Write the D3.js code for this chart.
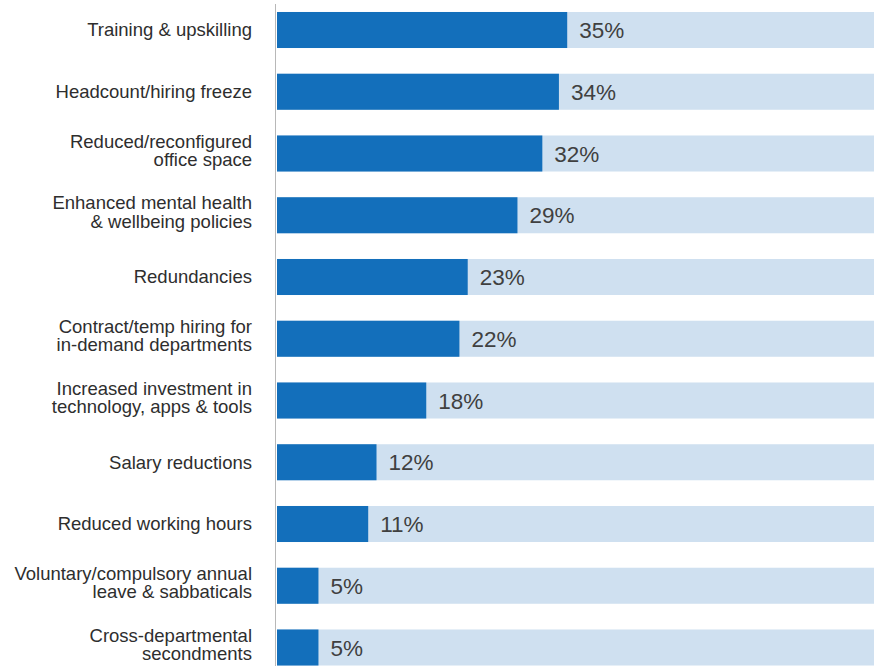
<!DOCTYPE html>
<html>
<head>
<meta charset="utf-8">
<script src="https://cdn.jsdelivr.net/npm/d3@7"></script>
<style>
  html, body { margin: 0; padding: 0; background: #fff; }
  svg { display: block; }
</style>
</head>
<body>
<svg id="chart" width="874" height="666"></svg>
<script>
// Workforce measures, share of respondents (%)
const categories = [
  ["Training & upskilling"],
  ["Headcount/hiring freeze"],
  ["Reduced/reconfigured", "office space"],
  ["Enhanced mental health", "& wellbeing policies"],
  ["Redundancies"],
  ["Contract/temp hiring for", "in-demand departments"],
  ["Increased investment in", "technology, apps & tools"],
  ["Salary reductions"],
  ["Reduced working hours"],
  ["Voluntary/compulsory annual", "leave & sabbaticals"],
  ["Cross-departmental", "secondments"]
];
const values = [35, 34, 32, 29, 23, 22, 18, 12, 11, 5, 5];
const valueLabels = values.map(v => v + "%");
const trackMax = 72;

const svg = d3.select("#chart");
const W = 874, H = 666;
const x0 = 277, labelRight = 252;

const x = d3.scaleLinear().domain([0, trackMax]).range([x0, W]);
const y = d3.scaleBand()
  .domain(d3.range(categories.length))
  .range([5.5, 672])
  .paddingInner(0.4165)
  .paddingOuter(0.105);

const rows = svg.selectAll("g.row")
  .data(values)
  .join("g")
  .attr("class", "row");

// light background track
rows.append("rect")
  .attr("x", x(0))
  .attr("y", (d, i) => y(i))
  .attr("width", x(trackMax) - x(0))
  .attr("height", y.bandwidth())
  .attr("fill", "#cfe0f0");

// value bar
rows.append("rect")
  .attr("x", x(0))
  .attr("y", (d, i) => y(i))
  .attr("width", d => x(d) - x(0))
  .attr("height", y.bandwidth())
  .attr("fill", "#136fbb");

// value labels
rows.append("text")
  .attr("x", d => x(d) + 12)
  .attr("y", (d, i) => y(i) + y.bandwidth() / 2)
  .attr("dy", "0.36em")
  .attr("font-family", "Liberation Sans, Arial, sans-serif")
  .attr("font-size", 22.5)
  .attr("fill", "#404040")
  .text((d, i) => valueLabels[i]);

// category labels
const fontSize = 18.5;
const lineH = 18.5;
rows.append("text")
  .attr("text-anchor", "end")
  .attr("font-family", "Liberation Sans, Arial, sans-serif")
  .attr("font-size", fontSize)
  .attr("fill", "#2e2e2e")
  .each(function (d, i) {
    const lines = categories[i];
    const cy = y(i) + y.bandwidth() / 2 - (lines.length > 1 ? 3 : 0);
    const start = cy - (lines.length - 1) * lineH / 2;
    d3.select(this).selectAll("tspan")
      .data(lines)
      .join("tspan")
      .attr("x", labelRight)
      .attr("y", (t, k) => start + k * lineH)
      .attr("dy", "0.35em")
      .text(t => t);
  });

// vertical axis line
svg.append("line")
  .attr("x1", 275.5).attr("x2", 275.5)
  .attr("y1", 4).attr("y2", H)
  .attr("stroke", "#b8b8b8")
  .attr("stroke-width", 1);
</script>
</body>
</html>
